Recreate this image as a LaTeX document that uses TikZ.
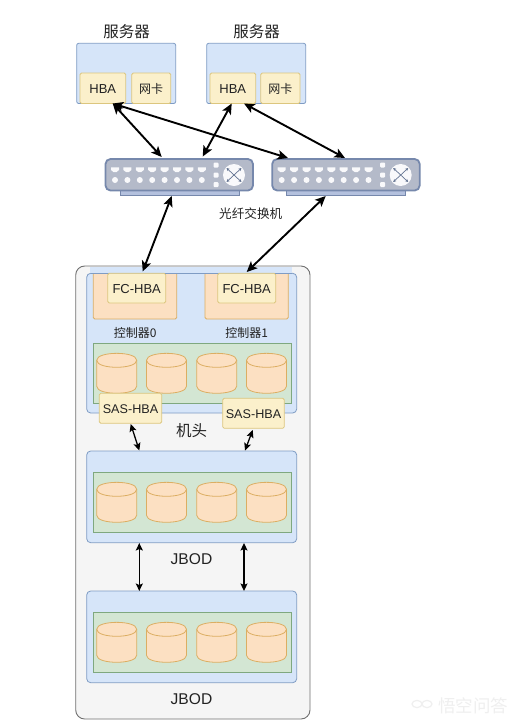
\documentclass[tikz,border=0pt]{standalone}
\usepackage{fontspec}
\setmainfont{Liberation Sans}
\newfontfamily\cjk{Noto Sans CJK SC}
\usetikzlibrary{arrows.meta}
\definecolor{panelfill}{HTML}{D6E5F9}
\definecolor{panelline}{HTML}{7F9CC4}
\definecolor{hbafill}{HTML}{FBF0CB}
\definecolor{hbaline}{HTML}{DCC67E}
\definecolor{ctlfill}{HTML}{FCE0C2}
\definecolor{ctlline}{HTML}{DCAE62}
\definecolor{grnfill}{HTML}{D3E6D3}
\definecolor{grnline}{HTML}{7FA87F}
\definecolor{outerfill}{HTML}{F5F5F5}
\definecolor{outerline}{HTML}{707070}
\definecolor{swfill}{HTML}{B4BAC9}
\definecolor{swline}{HTML}{7688AC}
\definecolor{swbase}{HTML}{B4C1DE}
\definecolor{txt}{HTML}{222222}
\definecolor{wm}{HTML}{EFEFEF}
\tikzset{
  x=1pt,y=-1pt,
  every node/.style={text=txt,inner sep=0pt,align=center},
  outerbox/.style={draw=outerline,fill=outerfill,rounded corners=9pt,line width=0.9pt},
  panel/.style={draw=panelline,fill=panelfill,rounded corners=4pt,line width=0.8pt},
  card/.style={draw=hbaline,fill=hbafill,rounded corners=1.5pt,line width=0.8pt},
  ctl/.style={draw=ctlline,fill=ctlfill,rounded corners=1.5pt,line width=0.8pt},
  grn/.style={draw=grnline,fill=grnfill,line width=0.8pt},
  disk/.style={draw=ctlline,fill=ctlfill,line width=0.8pt},
  lab/.style={font=\fontsize{13}{13}\selectfont},
  cjklab/.style={font=\cjk\fontsize{12}{12}\selectfont},
  biglab/.style={font=\cjk\fontsize{15.5}{16}\selectfont},
  jlab/.style={font=\fontsize{15.6}{16}\selectfont},
  thick link/.style={{Stealth[length=10.5pt,width=9.5pt,inset=2.5pt]}-{Stealth[length=10.5pt,width=9.5pt,inset=2.5pt]},line width=1.9pt,black},
  thin link/.style={{Stealth[length=7.5pt,width=7pt,inset=1.5pt]}-{Stealth[length=7.5pt,width=7pt,inset=1.5pt]},line width=1.3pt,black},
}
% a disk: left x, top y; 40 wide, 40 high
\newcommand{\diskat}[2]{%
  \path[disk] (#1,#2+7) .. controls (#1,#2-2.3) and (#1+40,#2-2.3) .. (#1+40,#2+7)
    -- (#1+40,#2+33) .. controls (#1+40,#2+42.3) and (#1,#2+42.3) .. (#1,#2+33) -- cycle;
  \path[draw=ctlline,line width=0.8pt] (#1,#2+7) .. controls (#1,#2+16.3) and (#1+40,#2+16.3) .. (#1+40,#2+7);
}
\newcommand{\diskrow}[1]{\diskat{96.7}{#1}\diskat{146.5}{#1}\diskat{196.7}{#1}\diskat{246.5}{#1}}
% a switch: left x
\newcommand{\switchat}[1]{%
  \begin{scope}[shift={(#1,0)}]
    \path[draw=swline,fill=swbase,line width=0.9pt] (15,190) rectangle (134,195.6);
    \path[draw=swline,fill=swfill,rounded corners=5pt,line width=1.8pt] (0.5,159) rectangle (148,190.5);
    \foreach \i in {0,...,7}{
      \path[fill=white!92!swfill] (10+12.4*\i-4,167.3) -- (10+12.4*\i+4,167.3) -- (10+12.4*\i+4,170) -- (10+12.4*\i+1.5,172) -- (10+12.4*\i-1.5,172) -- (10+12.4*\i-4,170) -- cycle;
      \path[fill=white!92!swfill] (10+12.4*\i,180) circle (3);
    }
    \foreach \yy in {165,175,184.5}{
      \path[fill=white!92!swfill,rounded corners=1pt] (108.5,\yy-2.5) rectangle (113.5,\yy+2.5);
    }
    \path[fill=white!92!swfill] (129,175) circle (11);
    \path[draw=swline!85!black,line width=0.7pt,-{Stealth[length=3pt,width=3pt]}] (129,175) -- (121.5,168);
    \path[draw=swline!85!black,line width=0.7pt,-{Stealth[length=3pt,width=3pt]}] (129,175) -- (136.5,168);
    \path[draw=swline!85!black,line width=0.7pt,-{Stealth[length=3pt,width=3pt]}] (129,175) -- (121.5,182);
    \path[draw=swline!85!black,line width=0.7pt,-{Stealth[length=3pt,width=3pt]}] (129,175) -- (136.5,182);
  \end{scope}
}
\begin{document}
\begin{tikzpicture}
\useasboundingbox (0,0) rectangle (519,724);
\fill[white] (0,0) rectangle (519,724);

% servers
\node[biglab] (title0) at (126.7,31.7) {服务器};
\node[biglab] (title1) at (256.7,31.7) {服务器};
\path[panel,rounded corners=2pt] (76.7,43.3) rectangle (175.7,103.5);
\path[panel,rounded corners=2pt] (206.7,43.3) rectangle (305.7,103.5);
\path[card] (80,73) rectangle (125.7,103.5);
\node[lab] (hbaA) at (102.8,89) {HBA};
\path[card] (131.7,73) rectangle (170.7,103.5);
\node[cjklab] (nicA) at (151.2,89) {网卡};
\path[card] (210,73) rectangle (255.7,103.5);
\node[lab] (hbaB) at (232.8,89) {HBA};
\path[card] (260.7,73) rectangle (300,103.5);
\node[cjklab] (nicB) at (280.3,89) {网卡};

% switches
\switchat{105}
\switchat{271.7}
\node[font=\cjk\fontsize{12.6}{13}\selectfont] (swlabel) at (250.7,214) {光纤交换机};

% enclosure
\path[outerbox] (75.7,266) rectangle (310,719);
\path[panel] (86.7,273.3) rectangle (296.7,413);
\path[ctl] (93.3,270) rectangle (176.7,319);
\path[ctl] (205,270) rectangle (288.3,319);
\path[panel,draw=none,rounded corners=0pt] (90,266.8) rectangle (292,272.9);
\path[draw=panelline,line width=0.8pt] (91,273.3) -- (292,273.3);
\path[card] (107.7,273.3) rectangle (165.7,303);
\path[card] (217.7,273.3) rectangle (275.7,303);
\node[lab] (fcA) at (136.7,289.3) {FC-HBA};
\node[lab] (fcB) at (246.7,289.3) {FC-HBA};
\node[cjklab] (ctl0) at (135.3,333.3) {控制器0};
\node[cjklab] (ctl1) at (246.7,333.3) {控制器1};
\path[grn] (93.3,343.3) rectangle (291.7,403.3);
\diskrow{353.3}
\path[card] (99.3,393.3) rectangle (161.7,423.3);
\path[card] (222.7,398.3) rectangle (284.3,428.3);
\node[lab,font=\fontsize{12.6}{13}\selectfont] (sasA) at (130.5,409) {SAS-HBA};
\node[lab,font=\fontsize{12.6}{13}\selectfont] (sasB) at (253.5,414) {SAS-HBA};
\node[biglab] (head) at (191.5,431) {机头};

% JBOD shelves
\path[panel] (86.7,451) rectangle (296.7,542.7);
\path[grn] (93.3,472.3) rectangle (291.7,532.7);
\diskrow{482.3}
\node[jlab] (jbodA) at (191.5,559.3) {JBOD};
\path[panel] (86.7,591) rectangle (296.7,682.7);
\path[grn] (93.3,612.3) rectangle (291.7,672.7);
\diskrow{622.3}
\node[jlab] (jbodB) at (191.5,699.3) {JBOD};

% connector ends
\coordinate (a1) at (112.7,103.5);
\coordinate (a2) at (231.7,103.5);
\coordinate (a3) at (244,103.5);
\coordinate (s1a) at (161.7,157);
\coordinate (s1b) at (202.7,156.5);
\coordinate (s2a) at (288,158);
\coordinate (s2b) at (345,158);
\coordinate (s1c) at (171.7,196);
\coordinate (s2c) at (325.7,196);
\coordinate (f1) at (142.7,271.5);
\coordinate (f2) at (246.7,272);
\coordinate (h1) at (130.7,424);
\coordinate (h2) at (252.7,430);
\coordinate (j1) at (139.3,450.5);
\coordinate (j2) at (245,450.5);
\coordinate (k1) at (139.3,543);
\coordinate (k2) at (244,543);
\coordinate (l1) at (139.3,591);
\coordinate (l2) at (244,591);

\draw[thick link] (a1) -- (s1a);
\draw[thick link] (a1) -- (s2a);
\draw[thick link] (a2) -- (s1b);
\draw[thick link] (a3) -- (s2b);
\draw[thick link] (s1c) -- (f1);
\draw[thick link] (s2c) -- (f2);
\draw[thin link] (h1) -- (j1);
\draw[thin link] (h2) -- (j2);
\draw[thin link] (k1) -- (l1);
\draw[thin link] (k2) -- (l2);

% watermark
\path[draw=wm,line width=1.2pt] (417,704) ellipse (5 and 3.6);
\path[draw=wm,line width=1.2pt] (427,704) ellipse (5 and 3.6);
\node[font=\cjk\fontsize{17.5}{18}\selectfont,text=wm] (mark) at (473,705.7) {悟空问答};
\end{tikzpicture}
\end{document}
